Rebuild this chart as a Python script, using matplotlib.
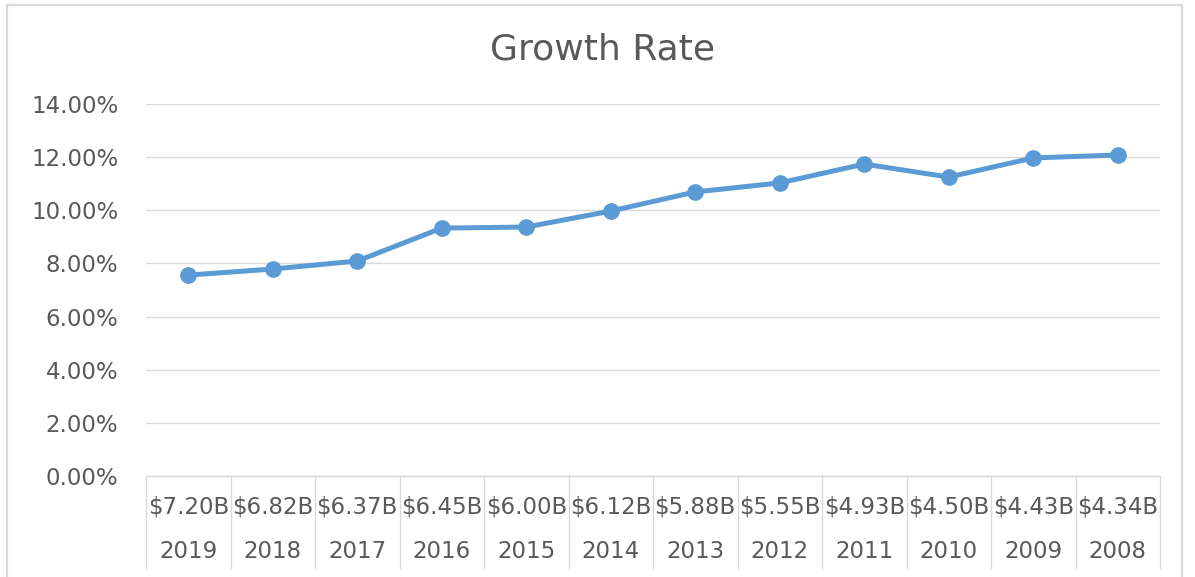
import numpy as np
import matplotlib.pyplot as plt
from matplotlib.patches import Rectangle
from matplotlib.ticker import FuncFormatter

# data
years = ['2019', '2018', '2017', '2016', '2015', '2014', '2013', '2012', '2011', '2010', '2009', '2008']
revenue = ['$7.20B', '$6.82B', '$6.37B', '$6.45B', '$6.00B', '$6.12B',
           '$5.88B', '$5.55B', '$4.93B', '$4.50B', '$4.43B', '$4.34B']
growth = [7.56, 7.79, 8.09, 9.33, 9.37, 9.97, 10.69, 11.03, 11.74, 11.25, 11.97, 12.08]

plt.rcParams['font.family'] = ['DejaVu Sans']
txt = '#595959'
grid = '#D9D9D9'

fig = plt.figure(figsize=(11.95, 5.77), dpi=100)
ax = fig.add_axes([146/1195, 1-476/577, (1160-146)/1195, (476-104)/577])

x = np.arange(len(years))
ax.plot(x, growth, color='#5B9BD5', lw=3.6, marker='o', ms=11, solid_capstyle='round')

ax.set_xlim(-0.5, len(years) - 0.5)
ax.set_ylim(0, 14)
ax.set_yticks(np.arange(0, 15, 2))
ax.yaxis.set_major_formatter(FuncFormatter(lambda v, p: f'{v:.2f}%'))
ax.tick_params(axis='y', length=0, labelsize=16.5, labelcolor=txt, pad=20)
ax.set_xticks([])
ax.grid(axis='y', color=grid, lw=1)
ax.set_axisbelow(True)
for s in ['top', 'right', 'left']:
    ax.spines[s].set_visible(False)
ax.spines['bottom'].set_color(grid)
ax.spines['bottom'].set_linewidth(1)

# two-level category axis
h = 372.0
sep_bottom = -(568 - 476) / h
for b in np.arange(-0.5, len(years), 1):
    ax.plot([b, b], [0, sep_bottom], color=grid, lw=1, transform=ax.get_xaxis_transform(), clip_on=False)
for i in range(len(years)):
    ax.text(i, -(507 - 476) / h, revenue[i], ha='center', va='center', fontsize=16.5, color=txt,
            transform=ax.get_xaxis_transform())
    ax.text(i, -(551 - 476) / h, years[i], ha='center', va='center', fontsize=16.5, color=txt,
            transform=ax.get_xaxis_transform())

fig.text(602/1195, 1-50/577, 'Growth Rate', ha='center', va='center', fontsize=26, color=txt)

# chart frame
fig.patches.append(Rectangle((7/1195, -0.05), (1182-7)/1195, 1.05 - 5/577, transform=fig.transFigure,
                             fill=False, edgecolor=grid, lw=1.6))

fig.savefig('out.png', dpi=100)
